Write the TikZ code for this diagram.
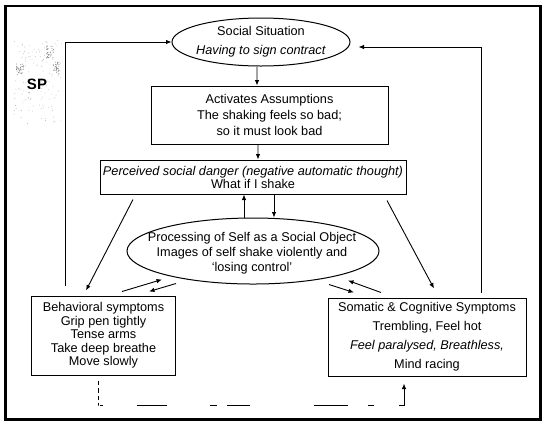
\documentclass[tikz,border=0pt]{standalone}
\usepackage{fontspec}
\setmainfont{Liberation Sans}
\usetikzlibrary{shapes.geometric,arrows.meta,calc}
\begin{document}
\begin{tikzpicture}[x=1bp,y=-1bp,
  txt/.style={align=center, inner sep=0pt},
  fs/.style={font=\fontsize{12.7bp}{#1bp}\selectfont},
  box/.style={draw, rectangle, line width=1bp, inner sep=0pt, align=center},
  ell/.style={draw, ellipse, line width=1bp, inner sep=0pt},
  arr/.style={-{Latex[length=5.5bp,width=4.5bp]}, line width=0.9bp},
  loopline/.style={line width=1.1bp},
  faded/.style={line width=0.9bp, dash pattern=on 4bp off 3bp on 5bp off 3bp on 4bp off 3bp on 3bp off 2bp on 3bp off 34bp on 30bp off 43bp on 7bp off 10bp on 23bp off 64bp on 34bp off 20bp on 6bp off 25bp on 60bp}
]
\useasboundingbox (0,0) rectangle (543,427);
\fill[white] (0,0) rectangle (543,427);
% frame
\draw[line width=2.6bp] (5.5,6) rectangle (540.5,419.5);

% SP speckle
\pgfmathsetseed{11}
\foreach \i in {1,...,130}{
  \pgfmathsetmacro\spx{14+48*rnd}
  \pgfmathsetmacro\spy{40+85*rnd}
  \fill[black!28] (\spx,\spy) circle (0.45bp);
}
\foreach \cx/\cy in {20/70, 50/52, 56/68}{
  \foreach \j in {1,...,30}{
    \pgfmathsetmacro\spx{\cx-3.5+7*rnd}
    \pgfmathsetmacro\spy{\cy-6+12*rnd}
    \fill[black!50] (\spx,\spy) circle (0.5bp);
  }
}
\node[txt, font=\fontsize{15bp}{15bp}\selectfont\bfseries] (SP) at (37,84) {SP};

% nodes
\node[ell, minimum width=178bp, minimum height=48bp] (SS) at (261,42) {};
\node[txt, fs=19] (SSt) at (SS) {Social Situation\\\textit{Having to sign contract}};

\node[box, fs=16, minimum width=237bp, minimum height=58bp] (Act) at (269.5,115)
  {Activates Assumptions\\The shaking feels so bad;\\so it must look bad};

\node[box, fs=13, minimum width=306bp, minimum height=34bp] (Perc) at (253,177)
  {\textit{Perceived social danger (negative automatic thought)}\\What if I shake};

\node[ell, minimum width=252bp, minimum height=66bp] (Proc) at (253,251) {};
\node[txt, fs=15] (Proct) at (252,253) {Processing of Self as a Social Object\\Images of self shake violently and\\`losing control'};

\node[box, fs=13.5, minimum width=143bp, minimum height=79bp] (Beh) at (103.5,335.5)
  {Behavioral symptoms\\Grip pen tightly\\Tense arms\\Take deep breathe\\Move slowly};

\node[box, fs=19, minimum width=198bp, minimum height=78bp] (Som) at (427,337)
  {Somatic \& Cognitive Symptoms\\Trembling, Feel hot\\\textit{Feel paralysed, Breathless,}\\Mind racing};

% connectors
\draw[arr] ([xshift=-4bp]SS.south) -- ([xshift=-12.5bp]Act.north);
\draw[arr] ([xshift=-11.5bp]Act.south) -- ([xshift=5bp]Perc.north);
\draw[arr] ([xshift=-9bp]Proc.north) -- ([xshift=-9bp]Perc.south);
\draw[arr] ([xshift=21bp]Perc.south) -- ([xshift=21bp]Proc.north);

\draw[arr] ($(Perc.south)+(-120,5)$) -- ($(Beh.north)+(-17.5,-5)$);
\draw[arr] ($(Perc.south)+(134,6)$) -- ($(Som.north)+(7,-9)$);

\draw[arr] ($(Beh.north)+(18.5,-4)$) -- ($(Proc.south)+(-91,-5)$);
\draw[arr] ($(Proc.south)+(-77,-1)$) -- ($(Beh.north)+(45.5,-4)$);
\draw[arr] ($(Proc.south)+(76,0)$) -- ($(Som.north)+(-73,-5)$);
\draw[arr] ($(Som.north)+(-46,-5)$) -- ($(Proc.south)+(95,-4)$);

\coordinate (lb) at (65,286);
\draw[loopline, arr] (lb) |- (SS.west);
\coordinate (rb) at (481,293);
\draw[loopline, arr] (rb) |- ($(SS.east)+(8,5)$);

\draw[faded, arr] ($(Beh.south)+(-5.5,5)$) -- ++(0,25) coordinate (c1) -| ($(Som.south)+(-23,7)$);
\end{tikzpicture}
\end{document}
